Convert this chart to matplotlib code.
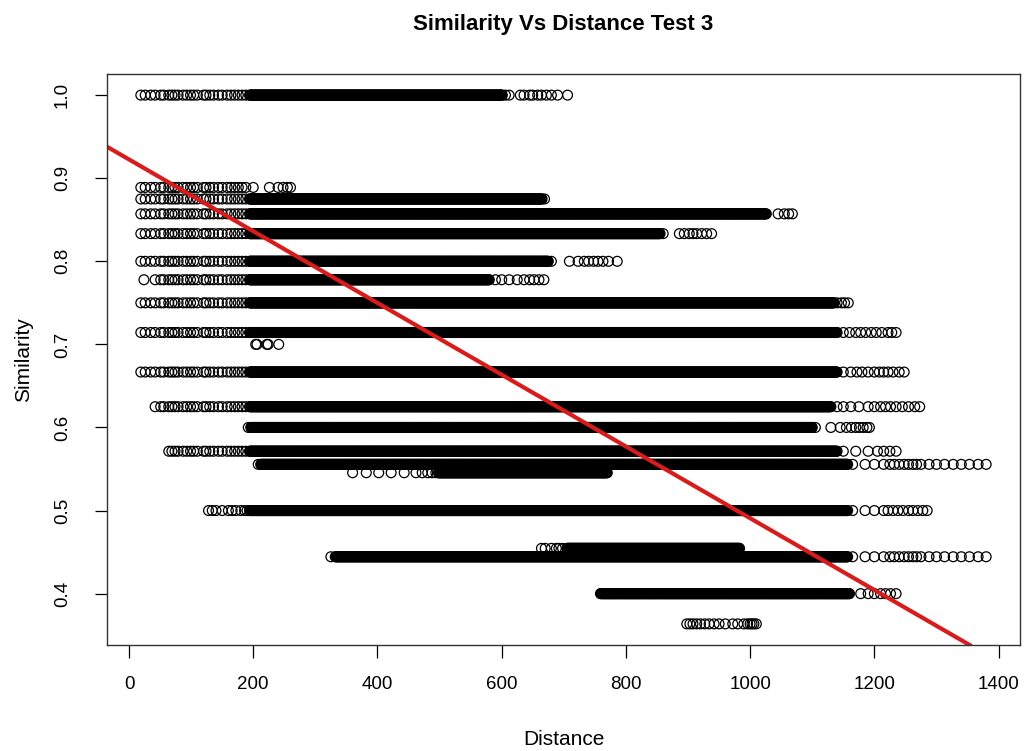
import numpy as np
import matplotlib
matplotlib.use("Agg")
import matplotlib.pyplot as plt

plt.rcParams["font.family"] = ["Liberation Sans", "DejaVu Sans"]

# similarity levels (one horizontal row of points per level)
SIM_LEVELS = [1.0, 0.8889, 0.875, 0.8571, 0.8333, 0.8, 0.7778, 0.75, 0.7143, 0.7,
              0.6667, 0.625, 0.6, 0.5714, 0.5556, 0.5455, 0.5, 0.4545, 0.4444, 0.4, 0.3636]

# short distances that show up in most rows
COMMON_LEFT = [19, 26, 35, 42, 51, 56, 64, 69, 74, 79, 87, 93, 99, 104, 110, 120, 124,
               130, 136, 144, 150, 158, 164, 170, 176, 182, 188]

# first common distance used per row (None = row has none of them)
LEFT_FROM = [19, 19, 19, 19, 19, 19, 42, 19, 19, None, 19, 42, None, 58, None, None,
             None, None, None, None, None]

# continuous runs of integer distances
DENSE_FROM = [194, None, 194, 194, 194, 194, 194, 194, 194, None, 194, 194, 196, 194,
              212, 498, 194, 705, 332, 759, None]
DENSE_TO = [601, None, 665, 1026, 855, 675, 580, 1135, 1140, None, 1140, 1130, 1100,
            1140, 1157, 770, 1157, 983, 1157, 1160, None]

# isolated distances at the ends of each row
EXTRA = [
    [606, 612, 630, 636, 645, 650, 658, 664, 672, 680, 690, 706],
    [200, 226, 240, 248, 255, 260],
    [669],
    [1045, 1055, 1062, 1068],
    [860, 886, 894, 902, 908, 914, 922, 930, 938],
    [680, 709, 723, 733, 740, 748, 755, 763, 772, 786],
    [24, 590, 600, 612, 625, 636, 645, 652, 660, 668],
    [1140, 1147, 1152, 1158],
    [1150, 1160, 1170, 1178, 1186, 1195, 1203, 1212, 1222, 1228, 1235],
    [204, 206, 222, 224, 241],
    [1150, 1162, 1172, 1180, 1190, 1200, 1208, 1215, 1222, 1230, 1240, 1248],
    [1140, 1150, 1162, 1175, 1190, 1200, 1210, 1218, 1226, 1235, 1245, 1255, 1265, 1273],
    [192, 1105, 1130, 1145, 1155, 1163, 1170, 1176, 1182, 1188, 1192],
    [1150, 1170, 1190, 1205, 1215, 1225, 1235],
    [208, 1165, 1185, 1200, 1215, 1225, 1232, 1240, 1248, 1255, 1262, 1268, 1275,
     1288, 1300, 1313, 1327, 1340, 1353, 1367, 1380],
    [360, 382, 402, 422, 443, 462, 472, 481, 488, 494],
    [128, 134, 140, 150, 160, 166, 172, 180, 186, 190, 1165, 1185, 1200, 1215, 1222,
     1230, 1238, 1246, 1255, 1262, 1270, 1278, 1285],
    [664, 670, 680, 688, 692, 698],
    [325, 1165, 1185, 1200, 1215, 1225, 1232, 1240, 1248, 1255, 1262, 1268, 1275,
     1288, 1300, 1313, 1327, 1340, 1353, 1367, 1380],
    [1178, 1190, 1200, 1210, 1218, 1226, 1235],
    [898, 903, 908, 914, 920, 927, 934, 942, 950, 960, 972, 980, 990, 996, 1000,
     1003, 1006, 1010],
]

# fitted regression line
INTERCEPT = 0.9226
SLOPE = -0.0004318

XTICKS = [0, 200, 400, 600, 800, 1000, 1200, 1400]
YTICKS = [0.4, 0.5, 0.6, 0.7, 0.8, 0.9, 1.0]


def row_points(i):
    d = list(EXTRA[i])
    if LEFT_FROM[i] is not None:
        d += [v for v in COMMON_LEFT if v >= LEFT_FROM[i]]
    if DENSE_FROM[i] is not None:
        d += list(np.arange(DENSE_FROM[i], DENSE_TO[i] + 1))
    d = np.array(d, dtype=float)
    return d, np.full(len(d), SIM_LEVELS[i])


xs, ys = [], []
for i in range(len(SIM_LEVELS)):
    d, s = row_points(i)
    xs.append(d)
    ys.append(s)
dist = np.concatenate(xs)
sim = np.concatenate(ys)

fig = plt.figure(figsize=(10.25, 7.51), dpi=100)
ax = fig.add_axes([0.1044, 0.1411, 0.8907, 0.7604])

ax.scatter(dist, sim, s=50, facecolors="none", edgecolors="black", linewidths=0.9)
ax.axline((0, INTERCEPT), slope=SLOPE, color="#d81c1c", lw=3.0)

# R-style 4% padding around the data range
xr = dist.max() - dist.min()
yr = sim.max() - sim.min()
ax.set_xlim(dist.min() - 0.04 * xr, dist.max() + 0.04 * xr)
ax.set_ylim(sim.min() - 0.04 * yr, sim.max() + 0.04 * yr)

ax.set_xticks(XTICKS)
ax.set_yticks(YTICKS)
ax.set_yticklabels([f"{v:.1f}" for v in YTICKS], rotation=90, va="center")
ax.tick_params(axis="both", direction="out", length=9, width=0.9, labelsize=13.5,
               color="black")
ax.tick_params(axis="x", pad=13)
ax.tick_params(axis="y", pad=17)
for sp in ax.spines.values():
    sp.set_linewidth(1.0)
    sp.set_color("#333333")

ax.set_xlabel("Distance", fontsize=15, labelpad=27)
ax.set_ylabel("Similarity", fontsize=15, labelpad=15)
fig.suptitle("Similarity Vs Distance Test 3", fontsize=16, fontweight="bold",
             x=0.549, y=0.982)

fig.savefig("out.png", dpi=100)
